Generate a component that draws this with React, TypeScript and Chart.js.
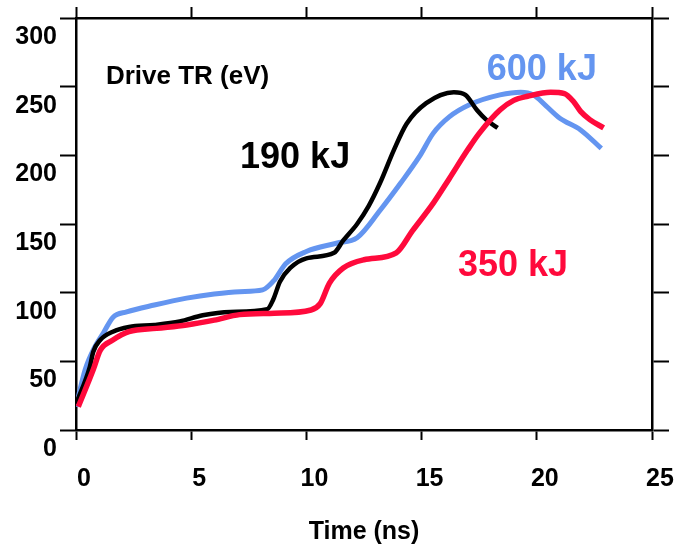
import React, { useEffect, useRef } from 'react';
import { Chart, registerables } from 'chart.js';

Chart.register(...registerables);

// Time (ns) and drive radiation temperature (eV) for each shot energy
const t190 = [0, 0.6, 0.75, 1.05, 1.6, 2.3, 3.4, 4.5, 5.5, 6.7, 8.3, 8.56, 8.85, 9.3, 10.0, 11.2, 11.6, 12.2, 12.7, 13.2, 13.8, 14.35, 15.2, 16.4, 16.9, 17.4, 17.8, 18.3];
const v190 = [19, 46, 57, 65.5, 71.6, 75, 76.5, 79, 83.5, 86, 88, 95, 108, 118, 125, 129, 138, 150, 163, 180, 204, 223, 238, 246, 244, 233, 226, 220];

const t600 = [0, 0.4, 0.8, 1.2, 1.6, 2.2, 3.4, 4.8, 6.0, 7.1, 8.1, 8.6, 9.1, 10.0, 11.3, 12.2, 13.2, 14.1, 14.9, 15.5, 16.2, 17.1, 18.4, 19.3, 19.85, 20.4, 21.0, 21.9, 22.8];
const v600 = [17, 44, 60, 71, 82, 86, 91, 96, 99, 100.7, 102, 109, 121, 130, 136, 140, 160, 180, 199, 216, 228, 237, 244, 246, 244, 236, 227, 218.5, 205];

const t350 = [0.1, 0.75, 1.05, 1.6, 2.3, 3.5, 4.8, 6.0, 7.1, 8.6, 10.2, 10.6, 11.0, 11.6, 12.5, 13.9, 14.6, 15.5, 16.2, 17.0, 17.5, 18.4, 19.0, 19.6, 20.6, 21.2, 21.6, 21.9, 22.3, 22.9];
const v350 = [17, 44, 58, 65.5, 71.6, 74, 76.5, 80, 84, 85, 87.4, 92, 107, 118, 124, 129, 145, 165, 183, 204, 216, 233, 240, 243, 246, 245, 239, 232, 226, 220];

const seriesNames = ['350 kJ', '190 kJ', '600 kJ'];

// Axis ranges / tick steps
const xRange = [0, 25];
const xStep = 5;
const yRange = [0, 300];
const yStep = 50;

// Text labels inside the plot (anchored in data coordinates)
const labelTexts = ['Drive TR (eV)', '190 kJ', '600 kJ', '350 kJ'];
const labelX = [1.3, 7.12, 17.83, 16.58];
const labelY = [257, 198, 262, 119];

const FONT = '"Liberation Sans", Arial, Helvetica, sans-serif';
const BLACK = '#000000';
const BLUE = '#6495F0';
const RED = '#FF0A3C';
const labelColors = [BLACK, BLACK, BLUE, RED];
const labelSizes = [26, 36, 36, 36];

const toPoints = (xs: number[], ys: number[]) => xs.map((x, i) => ({ x, y: ys[i] }));

const textPlugin = {
  id: 'plotTexts',
  afterDatasetsDraw(chart: any) {
    const { ctx, scales } = chart;
    const xs = scales.x;
    const ys = scales.y;
    ctx.save();
    ctx.textAlign = 'left';
    ctx.textBaseline = 'middle';
    labelTexts.forEach((txt, i) => {
      ctx.font = `bold ${labelSizes[i]}px ${FONT}`;
      ctx.fillStyle = labelColors[i];
      ctx.fillText(txt, xs.getPixelForValue(labelX[i]), ys.getPixelForValue(labelY[i]));
    });
    ctx.restore();
  },
};

export default function App() {
  const ref = useRef<HTMLCanvasElement | null>(null);

  useEffect(() => {
    if (!ref.current) return;
    const gridCommon = { drawOnChartArea: false, drawTicks: true, tickWidth: 2, tickColor: BLACK, color: BLACK };
    const borderCommon = { display: true, color: BLACK, width: 2.5 };
    const noPad = (s: any) => { s.paddingLeft = 0; s.paddingRight = 0; s.paddingTop = 0; s.paddingBottom = 0; };
    const chart = new Chart(ref.current, {
      type: 'line',
      data: {
        datasets: [
          {
            label: seriesNames[0],
            data: toPoints(t350, v350),
            borderColor: RED,
            borderWidth: 5.5,
            order: 0,
          },
          {
            label: seriesNames[1],
            data: toPoints(t190, v190),
            borderColor: BLACK,
            borderWidth: 4.5,
            order: 1,
          },
          {
            label: seriesNames[2],
            data: toPoints(t600, v600),
            borderColor: BLUE,
            borderWidth: 5,
            order: 2,
          },
        ],
      },
      options: {
        responsive: false,
        animation: false,
        layout: { padding: 0 },
        elements: {
          point: { radius: 0 },
          line: { cubicInterpolationMode: 'monotone', fill: false, borderCapStyle: 'butt', borderJoinStyle: 'round' },
        },
        plugins: {
          legend: { display: false },
          tooltip: { enabled: false },
        },
        scales: {
          x: {
            type: 'linear',
            position: 'bottom',
            min: xRange[0],
            max: xRange[1],
            ticks: {
              stepSize: xStep,
              color: BLACK,
              font: { family: FONT, size: 25, weight: 'bold' },
              padding: 24,
              labelOffset: 8,
              maxRotation: 0,
            },
            grid: { ...gridCommon, tickLength: 10 },
            border: borderCommon,
            title: {
              display: true,
              text: 'Time (ns)',
              color: BLACK,
              font: { family: FONT, size: 25, weight: 'bold' },
              padding: { top: 0, bottom: 2 },
            },
            afterFit: (s: any) => { s.height = 119; noPad(s); },
          },
          x2: {
            type: 'linear',
            position: 'top',
            min: xRange[0],
            max: xRange[1],
            ticks: { stepSize: xStep, display: false },
            grid: { ...gridCommon, tickLength: 11 },
            border: borderCommon,
            afterFit: (s: any) => { s.height = 18; noPad(s); },
          },
          y: {
            type: 'linear',
            position: 'left',
            min: yRange[0],
            max: yRange[1],
            ticks: {
              stepSize: yStep,
              color: BLACK,
              font: { family: FONT, size: 25, weight: 'bold' },
              padding: 3,
              labelOffset: 19,
            },
            grid: { ...gridCommon, tickLength: 16 },
            border: borderCommon,
            afterFit: (s: any) => { s.width = 76; noPad(s); },
          },
          y2: {
            type: 'linear',
            position: 'right',
            min: yRange[0],
            max: yRange[1],
            ticks: { stepSize: yStep, display: false },
            grid: { ...gridCommon, tickLength: 17 },
            border: borderCommon,
            afterFit: (s: any) => { s.width = 30; noPad(s); },
          },
        },
      } as any,
      plugins: [textPlugin],
    });
    return () => chart.destroy();
  }, []);

  return (
    <div style={{ position: 'absolute', left: 0, top: 0, width: 682, height: 549, background: '#fff' }}>
      <canvas ref={ref} width={682} height={549} style={{ display: 'block' }} />
    </div>
  );
}
